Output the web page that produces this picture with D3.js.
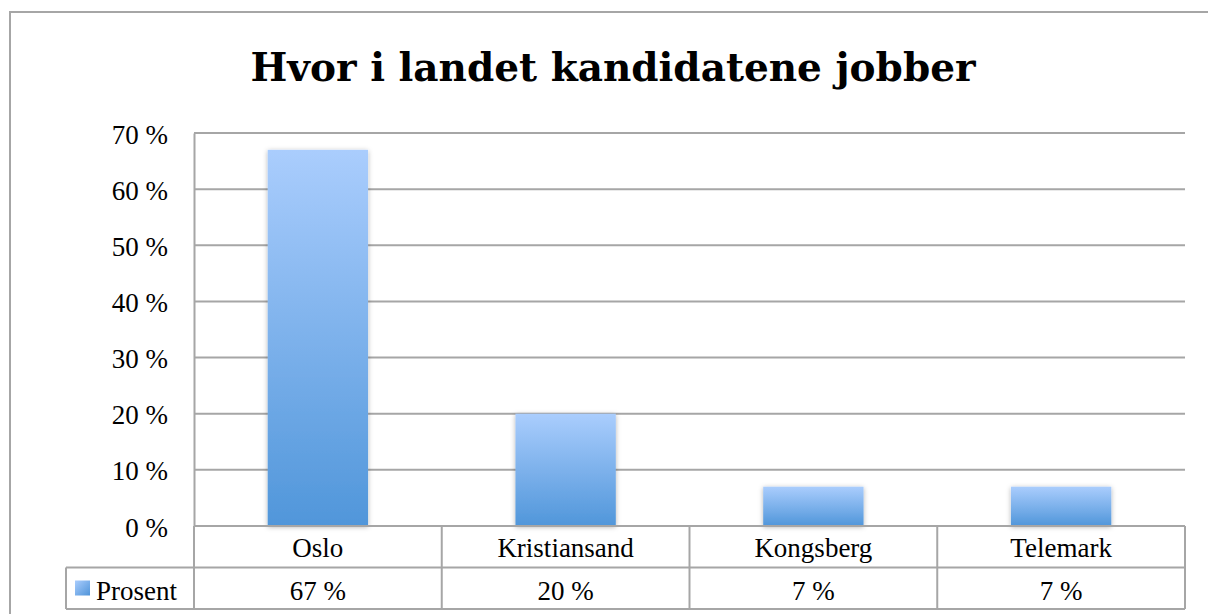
<!DOCTYPE html>
<html>
<head>
<meta charset="utf-8">
<script src="https://cdn.jsdelivr.net/npm/d3@7"></script>
<style>
  body { margin: 0; background: #fff; }
  svg { display: block; font-family: "Liberation Serif", "DejaVu Serif", serif; }
</style>
</head>
<body>
<div id="chart"></div>
<script>
// chart data
const categories = ["Oslo", "Kristiansand", "Kongsberg", "Telemark"];
const prosent = [67, 20, 7, 7];
const yTicks = [0, 10, 20, 30, 40, 50, 60, 70];
const seriesName = "Prosent";
const title = "Hvor i landet kandidatene jobber";

const W = 1208, H = 614;
const plot = { left: 194, right: 1185, top: 133, bottom: 526 };
const rowH = 41.5;
const fs = 27;

const svg = d3.select("#chart").append("svg")
    .attr("width", W)
    .attr("height", H);

const defs = svg.append("defs");
const grad = defs.append("linearGradient")
    .attr("id", "barGrad")
    .attr("x1", 0).attr("y1", 0).attr("x2", 0).attr("y2", 1);
grad.append("stop").attr("offset", "0%").attr("stop-color", "#aacdfd");
grad.append("stop").attr("offset", "100%").attr("stop-color", "#5096da");

const legGrad = defs.append("linearGradient")
    .attr("id", "legGrad")
    .attr("x1", 0).attr("y1", 0).attr("x2", 1).attr("y2", 1);
legGrad.append("stop").attr("offset", "0%").attr("stop-color", "#aacdfd");
legGrad.append("stop").attr("offset", "100%").attr("stop-color", "#4f94d9");

const shadow = defs.append("filter").attr("id", "shadow")
    .attr("x", "-20%").attr("y", "-20%").attr("width", "140%").attr("height", "140%");
shadow.append("feDropShadow")
    .attr("dx", 0).attr("dy", 1).attr("stdDeviation", 2.5)
    .attr("flood-color", "#000").attr("flood-opacity", 0.3);

// outer frame
svg.append("rect")
    .attr("x", 10).attr("y", 12)
    .attr("width", W + 10).attr("height", H + 10)
    .attr("fill", "none").attr("stroke", "#a6a6a6").attr("stroke-width", 2);

// title
svg.append("text")
    .attr("x", 613).attr("y", 81)
    .attr("text-anchor", "middle")
    .attr("font-family", "DejaVu Serif, serif")
    .attr("font-size", 39).attr("font-weight", "bold")
    .text(title);

const x = d3.scaleBand().domain(categories).range([plot.left, plot.right]).padding(0);
const y = d3.scaleLinear().domain([0, 70]).range([plot.bottom, plot.top]);
const barW = x.bandwidth() * 0.405;

// gridlines
svg.append("g").selectAll("line").data(yTicks).enter().append("line")
    .attr("x1", plot.left).attr("x2", plot.right)
    .attr("y1", d => y(d)).attr("y2", d => y(d))
    .attr("stroke", "#a6a6a6").attr("stroke-width", 2);

// y axis labels
const yAxis = d3.axisLeft(y).tickValues(yTicks).tickSize(0).tickPadding(26)
    .tickFormat(d => d + " %");
const yg = svg.append("g").attr("transform", "translate(" + plot.left + ",0)").call(yAxis);
yg.select(".domain").attr("stroke", "#a6a6a6").attr("stroke-width", 2);
yg.selectAll("text").attr("font-size", fs).attr("fill", "#000")
    .attr("font-family", "Liberation Serif, serif").attr("dy", "0.37em");

// bars
svg.append("g").selectAll("rect").data(prosent).enter().append("rect")
    .attr("x", (d, i) => x(categories[i]) + (x.bandwidth() - barW) / 2)
    .attr("width", barW)
    .attr("y", d => y(d))
    .attr("height", d => y(0) - y(d))
    .attr("fill", "url(#barGrad)")
    .attr("filter", "url(#shadow)");

// data table
const tbl = svg.append("g");
const lineCol = "#a6a6a6";
// horizontal lines
[plot.bottom, plot.bottom + rowH, plot.bottom + 2 * rowH].forEach((yy, i) => {
    tbl.append("line")
        .attr("x1", i === 0 ? plot.left : 66).attr("x2", plot.right)
        .attr("y1", yy).attr("y2", yy)
        .attr("stroke", lineCol).attr("stroke-width", 2);
});
// vertical lines
const colEdges = categories.map(c => x(c)).concat([plot.right]);
colEdges.forEach(xx => {
    tbl.append("line")
        .attr("x1", xx).attr("x2", xx)
        .attr("y1", plot.bottom).attr("y2", plot.bottom + 2 * rowH)
        .attr("stroke", lineCol).attr("stroke-width", 2);
});
tbl.append("line")
    .attr("x1", 66).attr("x2", 66)
    .attr("y1", plot.bottom + rowH).attr("y2", plot.bottom + 2 * rowH)
    .attr("stroke", lineCol).attr("stroke-width", 2);

tbl.selectAll("text.cat").data(categories).enter().append("text")
    .attr("class", "cat")
    .attr("x", d => x(d) + x.bandwidth() / 2)
    .attr("y", plot.bottom + 31)
    .attr("text-anchor", "middle")
    .attr("font-size", fs)
    .text(d => d);

tbl.selectAll("text.val").data(prosent).enter().append("text")
    .attr("class", "val")
    .attr("x", (d, i) => x(categories[i]) + x.bandwidth() / 2)
    .attr("y", plot.bottom + rowH + 32)
    .attr("text-anchor", "middle")
    .attr("font-size", fs)
    .text(d => d + " %");

// legend key
tbl.append("rect")
    .attr("x", 75).attr("y", plot.bottom + rowH + 13)
    .attr("width", 15).attr("height", 15)
    .attr("fill", "url(#legGrad)");
tbl.append("text")
    .attr("x", 96).attr("y", plot.bottom + rowH + 32)
    .attr("font-size", fs)
    .text(seriesName);
</script>
</body>
</html>
